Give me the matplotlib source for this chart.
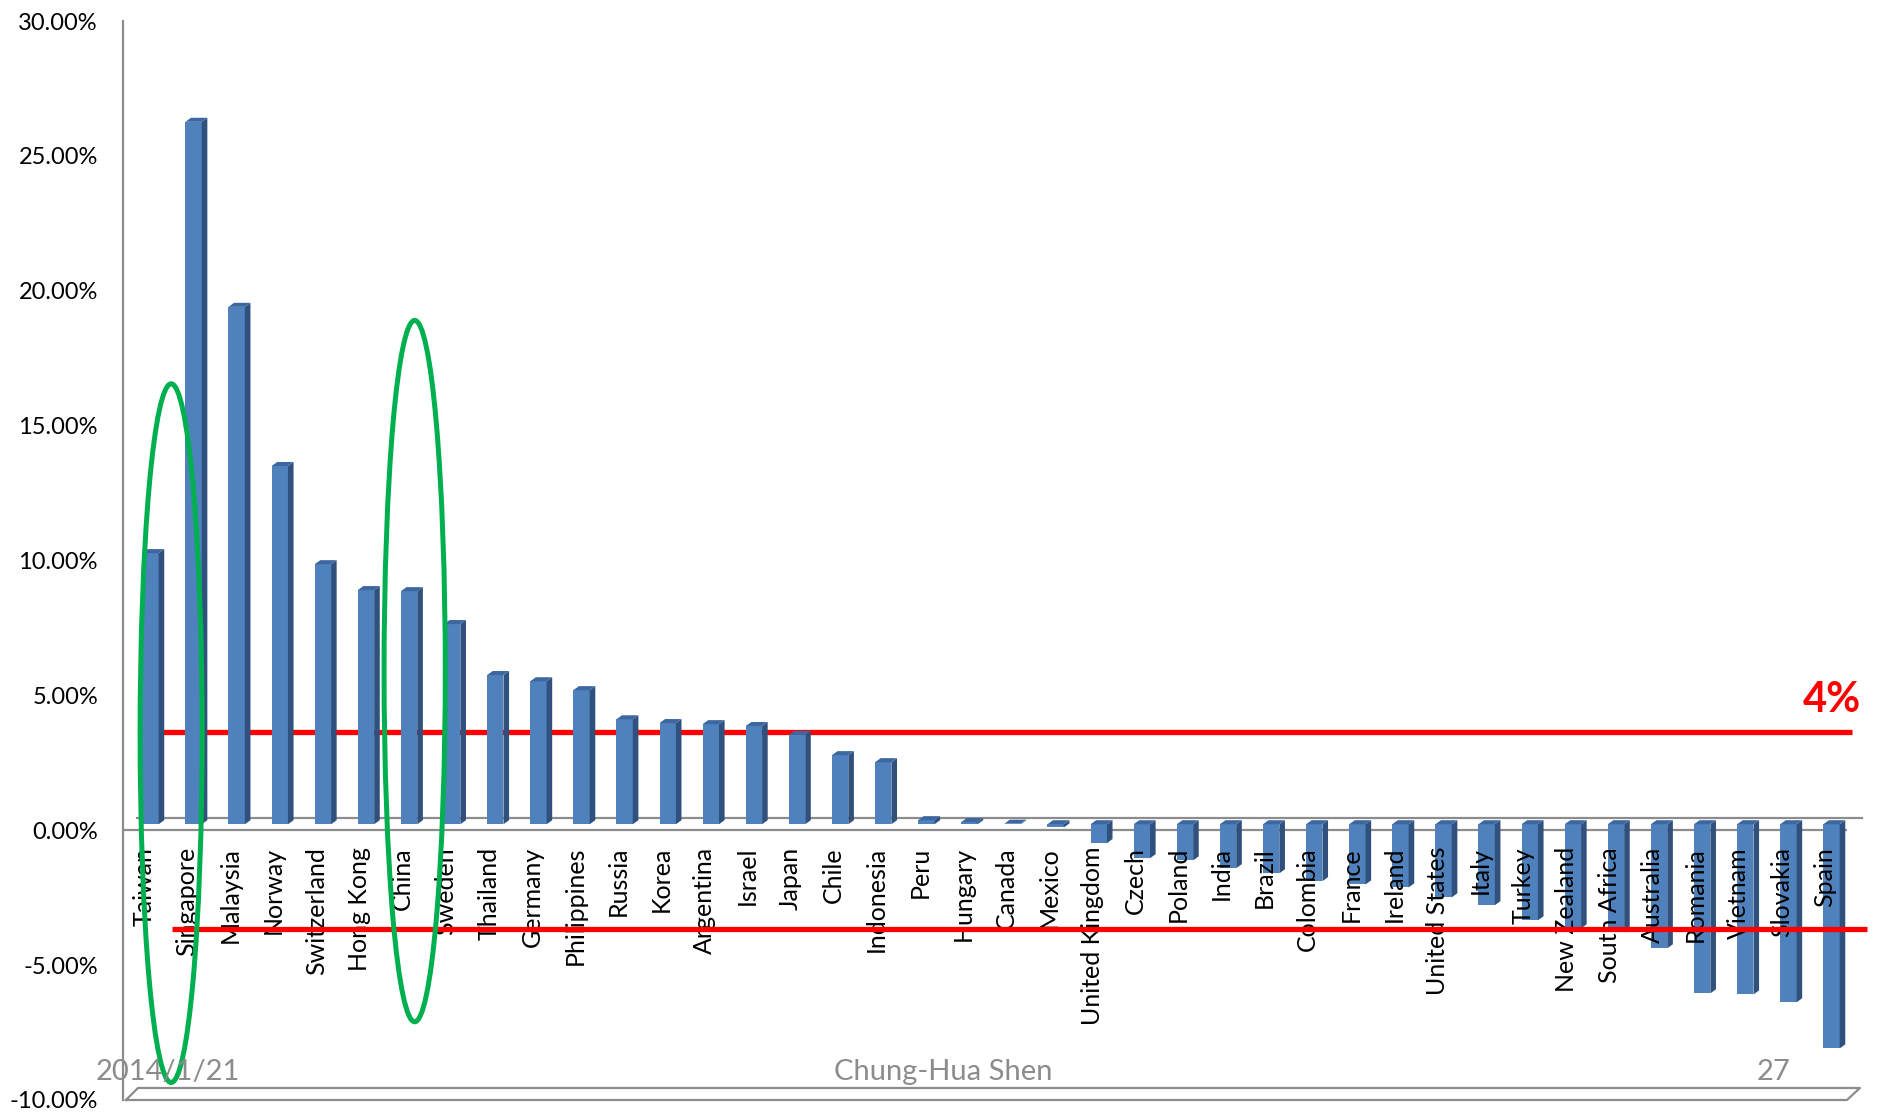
import matplotlib
matplotlib.use("Agg")
import matplotlib.pyplot as plt
from matplotlib import transforms
from matplotlib.patches import Polygon, Ellipse
import numpy as np

# stock market returns by country, in percent
countries = ["Taiwan", "Singapore", "Malaysia", "Norway", "Switzerland", "Hong Kong",
             "China", "Sweden", "Thailand", "Germany", "Philippines", "Russia", "Korea",
             "Argentina", "Israel", "Japan", "Chile", "Indonesia", "Peru", "Hungary",
             "Canada", "Mexico", "United Kingdom", "Czech", "Poland", "India", "Brazil",
             "Colombia", "France", "Ireland", "United States", "Italy", "Turkey",
             "New Zealand", "South Africa", "Australia", "Romania", "Vietnam",
             "Slovakia", "Spain"]
returns = [10.05, 26.04, 19.18, 13.28, 9.64, 8.68, 8.64, 7.42, 5.53, 5.30,
           4.97, 3.89, 3.75, 3.71, 3.64, 3.31, 2.56, 2.30, 0.15, 0.08,
           0.02, -0.12, -0.70, -1.26, -1.34, -1.63, -1.82, -2.11, -2.23, -2.34,
           -2.71, -3.00, -3.56, -3.86, -4.01, -4.60, -6.27, -6.31, -6.60, -8.31]
y_ticks = [-10, -5, 0, 5, 10, 15, 20, 25, 30]

upper_band = 3.63
lower_band = -3.67
band_label = "4%"
footer_date = "2014/1/21"
footer_author = "Chung-Hua Shen"
footer_page = "27"

plt.rcParams['font.family'] = ['Lato', 'DejaVu Sans']

W, H = 1881, 1114
fig = plt.figure(figsize=(W / 100, H / 100), dpi=100)
ax = fig.add_axes([123 / W, 1 - 1100 / H, (1847 - 123) / W, (1100 - 21) / H])
x_lo, x_hi = -0.487, 39.51
ax.set_xlim(x_lo, x_hi)
ax.set_ylim(-10, 30)

grey = '#8C8C8C'
for s in ['top', 'right', 'bottom']:
    ax.spines[s].set_visible(False)
ax.spines['left'].set_color(grey)
ax.spines['left'].set_linewidth(1.6)

ax.set_xticks([])
ax.set_yticks(y_ticks)
ax.set_yticklabels([f"{t:.2f}%" for t in y_ticks])
ax.tick_params(axis='y', length=0, pad=18, labelsize=17)

# fake 3d depth
depth_dx, depth_dy = 0.30, 0.445
half_dx, half_dy = depth_dx / 2, depth_dy / 2
side_dx, side_dy = 0.13, 0.15
bw = 0.38

# zero plane and floor
ax.plot([x_lo, x_hi], [0, 0], color=grey, lw=1.6, zorder=1)
ax.plot([-0.16, 39.86], [depth_dy, depth_dy], color=grey, lw=1.6, zorder=1, clip_on=False)
ax.plot([-0.42, x_hi, x_hi + depth_dx, -0.14, -0.42],
        [-10, -10, -10 + depth_dy, -10 + depth_dy, -10],
        color=grey, lw=1.6, zorder=1, clip_on=False)

# upper band line sits behind the bars
ax.plot([0.02, 39.63], [upper_band, upper_band], color='#FF0000', lw=3.8,
        zorder=2, clip_on=False, solid_capstyle='butt')

xs = np.arange(len(countries))
vals = np.array(returns)
ax.bar(xs + half_dx, vals, width=bw, bottom=half_dy, color='#4F81BD',
       edgecolor='none', zorder=3)
for x, v in zip(xs, vals):
    x1 = x + half_dx + bw / 2
    x0 = x1 - bw
    lo = half_dy + min(v, 0)
    hi = half_dy + max(v, 0)
    ax.add_patch(Polygon([(x1, lo), (x1 + side_dx, lo + side_dy),
                          (x1 + side_dx, hi + side_dy), (x1, hi)],
                         closed=True, fc='#30517D', ec='none', zorder=3))
    ax.add_patch(Polygon([(x0, hi), (x1, hi), (x1 + side_dx, hi + side_dy),
                          (x0 + side_dx, hi + side_dy)],
                         closed=True, fc='#3D67A0', ec='none', zorder=3))

lab_tr = transforms.offset_copy(ax.transData, fig=fig, y=-12, units='points')
for x, name in zip(xs, countries):
    ax.text(x, 0, name, transform=lab_tr, rotation=90, ha='center', va='top',
            fontsize=18, color='black', zorder=4)

# lower band line drawn over the labels
ax.plot([0.65, 39.98], [lower_band, lower_band], color='#FF0000', lw=3.8,
        zorder=5, clip_on=False, solid_capstyle='butt')

# green highlight ellipses (Taiwan/Singapore and China)
for cx, cy, ew, eh in [(0.63, 3.6, 1.44, 25.9), (6.28, 5.9, 1.42, 26.0)]:
    ax.add_patch(Ellipse((cx, cy), ew, eh, fill=False, ec='#00B050', lw=3.6,
                         zorder=6, clip_on=False))

fig.text(1832 / W, 1 - 712 / H, band_label, color='#FF0000', fontweight='bold',
         fontsize=30, ha='center', va='baseline')

fig.text(168 / W, 1 - 1080 / H, footer_date, color=grey, fontsize=21,
         ha='center', va='baseline', zorder=0)
fig.text(943 / W, 1 - 1080 / H, footer_author, color=grey, fontsize=21,
         ha='center', va='baseline', zorder=0)
fig.text(1774 / W, 1 - 1080 / H, footer_page, color=grey, fontsize=21,
         ha='center', va='baseline', zorder=0)

fig.savefig('out.png', dpi=100)
